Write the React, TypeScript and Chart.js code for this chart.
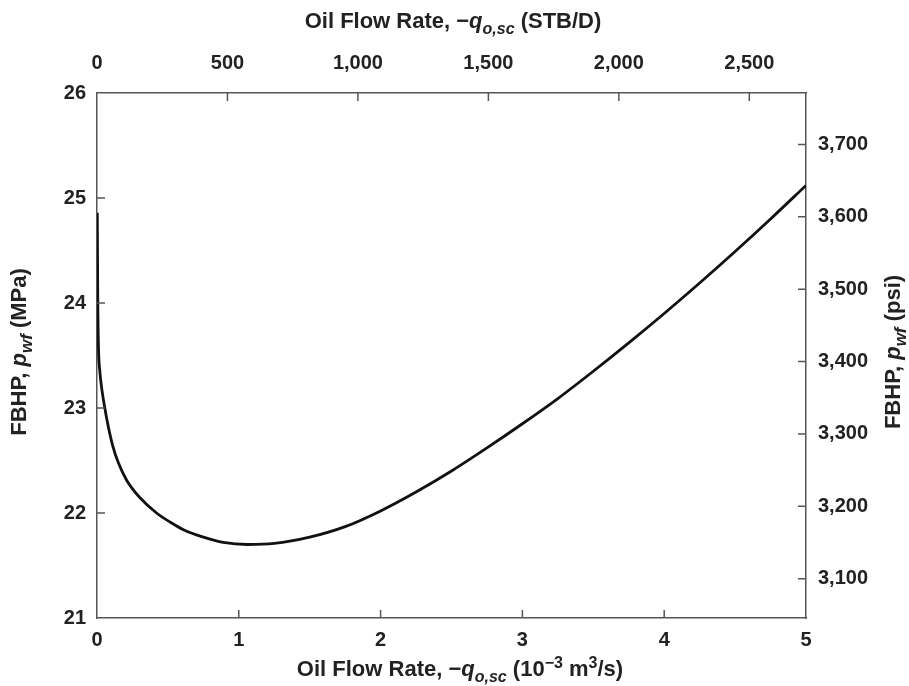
import React, { useEffect, useRef } from "react";
import { Chart, registerables } from "chart.js";

Chart.register(...registerables);

// Oil flow rate, 10^-3 m3/s
const flowRate = [
  0.002, 0.005, 0.01, 0.02, 0.035, 0.055, 0.08, 0.11, 0.15, 0.21, 0.3, 0.42,
  0.52, 0.61, 0.75, 0.89, 1.06, 1.25, 1.5, 1.75, 2.0, 2.25, 2.5, 2.75, 3.0,
  3.25, 3.5, 3.75, 4.0, 4.25, 4.5, 4.75, 5.0,
];
// FBHP, MPa
const fbhp = [
  24.86, 24.1, 23.6, 23.35, 23.17, 23.0, 22.82, 22.645, 22.48, 22.31, 22.15,
  22.0, 21.91, 21.84, 21.77, 21.72, 21.7, 21.71, 21.77, 21.87, 22.02, 22.2,
  22.4, 22.62, 22.85, 23.09, 23.35, 23.62, 23.9, 24.19, 24.49, 24.8, 25.12,
];

const bottomTicks = [0, 1, 2, 3, 4, 5];
const leftTicks = [21, 22, 23, 24, 25, 26];
const topTicks = [0, 500, 1000, 1500, 2000, 2500];
const rightTicks = [3100, 3200, 3300, 3400, 3500, 3600, 3700];

const X_MIN = 0;
const X_MAX = 5;
const Y_MIN = 21;
const Y_MAX = 26;
const STB_MAX = 2717.3; // 5e-3 m3/s in STB/D
const PSI_MIN = 3045.8; // 21 MPa in psi
const PSI_MAX = 3771.0; // 26 MPa in psi

const TEXT = "#222";
const AXIS = "#555";
const FAMILY = '"Liberation Sans", Arial, Helvetica, sans-serif';

type Seg = { t: string; it?: boolean; sub?: boolean; sup?: boolean };

const bottomTitle: Seg[] = [
  { t: "Oil Flow Rate, \u2212" },
  { t: "q", it: true },
  { t: "o,sc", it: true, sub: true },
  { t: " (10" },
  { t: "\u22123", sup: true },
  { t: " m" },
  { t: "3", sup: true },
  { t: "/s)" },
];
const topTitle: Seg[] = [
  { t: "Oil Flow Rate, \u2212" },
  { t: "q", it: true },
  { t: "o,sc", it: true, sub: true },
  { t: " (STB/D)" },
];
const leftTitle: Seg[] = [
  { t: "FBHP, " },
  { t: "p", it: true },
  { t: "wf", it: true, sub: true },
  { t: " (MPa)" },
];
const rightTitle: Seg[] = [
  { t: "FBHP, " },
  { t: "p", it: true },
  { t: "wf", it: true, sub: true },
  { t: " (psi)" },
];

function segFont(s: Seg, size: number, subScale: number) {
  const sz = s.sub || s.sup ? Math.round(size * subScale) : size;
  return `${s.it ? "italic " : ""}bold ${sz}px ${FAMILY}`;
}

function drawRich(
  ctx: CanvasRenderingContext2D,
  segs: Seg[],
  cx: number,
  cy: number,
  rot: number,
  size: number,
  subScale: number
) {
  ctx.save();
  ctx.translate(cx, cy);
  ctx.rotate(rot);
  ctx.fillStyle = TEXT;
  ctx.textBaseline = "alphabetic";
  ctx.textAlign = "left";
  let total = 0;
  const widths = segs.map((s) => {
    ctx.font = segFont(s, size, subScale);
    const w = ctx.measureText(s.t).width;
    total += w;
    return w;
  });
  let x = -total / 2;
  const base = size * 0.36;
  segs.forEach((s, i) => {
    ctx.font = segFont(s, size, subScale);
    let dy = 0;
    if (s.sub) dy = size * 0.28;
    if (s.sup) dy = -size * 0.38;
    ctx.fillText(s.t, x, base + dy);
    x += widths[i];
  });
  ctx.restore();
}

const decorPlugin = {
  id: "decor",
  afterDraw(chart: any) {
    const ctx = chart.ctx as CanvasRenderingContext2D;
    const a = chart.chartArea;
    const len = 8;
    ctx.save();
    ctx.strokeStyle = AXIS;
    ctx.lineWidth = 1.5;
    ctx.beginPath();
    const sx = chart.scales.x;
    bottomTicks.forEach((v) => {
      const p = sx.getPixelForValue(v);
      if (v === X_MIN || v === X_MAX) return;
      ctx.moveTo(p, a.bottom);
      ctx.lineTo(p, a.bottom - len);
    });
    const sx2 = chart.scales.x2;
    topTicks.forEach((v) => {
      if (v === 0) return;
      const p = sx2.getPixelForValue(v);
      ctx.moveTo(p, a.top);
      ctx.lineTo(p, a.top + len);
    });
    const sy = chart.scales.y;
    leftTicks.forEach((v) => {
      if (v === Y_MIN || v === Y_MAX) return;
      const p = sy.getPixelForValue(v);
      ctx.moveTo(a.left, p);
      ctx.lineTo(a.left + len, p);
    });
    const sy2 = chart.scales.y2;
    rightTicks.forEach((v) => {
      const p = sy2.getPixelForValue(v);
      ctx.moveTo(a.right, p);
      ctx.lineTo(a.right - len, p);
    });
    ctx.stroke();
    ctx.restore();

    drawRich(ctx, bottomTitle, 460, 668, 0, 22, 0.72);
    drawRich(ctx, topTitle, 453, 20, 0, 22, 0.72);
    drawRich(ctx, leftTitle, 18, 352, -Math.PI / 2, 22, 0.78);
    drawRich(ctx, rightTitle, 892, 352, -Math.PI / 2, 22, 0.78);
  },
};

const fmt = (v: number) => Number(v).toLocaleString("en-US");

export default function App() {
  const ref = useRef<HTMLCanvasElement | null>(null);
  useEffect(() => {
    if (!ref.current) return;
    const tickFont = { family: FAMILY, size: 20, weight: "bold" as const };
    const border = { display: true, color: AXIS, width: 1.5 };
    const chart = new Chart(ref.current, {
      type: "line",
      data: {
        datasets: [
          {
            data: flowRate.map((x, i) => ({ x, y: fbhp[i] })),
            borderColor: "#111",
            borderWidth: 2.8,
            pointRadius: 0,
            fill: false,
            cubicInterpolationMode: "monotone",
            xAxisID: "x",
            yAxisID: "y",
          },
        ],
      },
      options: {
        responsive: false,
        animation: false,
        layout: { padding: 0 },
        plugins: {
          legend: { display: false },
          tooltip: { enabled: false },
          title: { display: false },
        },
        scales: {
          x: {
            type: "linear",
            position: "bottom",
            min: X_MIN,
            max: X_MAX,
            afterBuildTicks: (s: any) => {
              s.ticks = bottomTicks.map((value) => ({ value }));
            },
            afterFit: (s: any) => {
              s.height = 68;
            },
            grid: { display: false, drawTicks: false },
            border,
            ticks: { font: tickFont, color: TEXT, padding: 10, maxRotation: 0 },
          },
          x2: {
            type: "linear",
            position: "top",
            min: 0,
            max: STB_MAX,
            afterBuildTicks: (s: any) => {
              s.ticks = topTicks.map((value) => ({ value }));
            },
            afterFit: (s: any) => {
              s.height = 93;
            },
            grid: { display: false, drawTicks: false },
            border,
            ticks: {
              font: tickFont,
              color: TEXT,
              padding: 18,
              maxRotation: 0,
              autoSkip: false,
              callback: (v: any) => fmt(v),
            },
          },
          y: {
            type: "linear",
            position: "left",
            min: Y_MIN,
            max: Y_MAX,
            afterBuildTicks: (s: any) => {
              s.ticks = leftTicks.map((value) => ({ value }));
            },
            afterFit: (s: any) => {
              s.width = 97;
            },
            grid: { display: false, drawTicks: false },
            border,
            ticks: { font: tickFont, color: TEXT, padding: 11 },
          },
          y2: {
            type: "linear",
            position: "right",
            min: PSI_MIN,
            max: PSI_MAX,
            afterBuildTicks: (s: any) => {
              s.ticks = rightTicks.map((value) => ({ value }));
            },
            afterFit: (s: any) => {
              s.width = 103;
            },
            grid: { display: false, drawTicks: false },
            border,
            ticks: {
              font: tickFont,
              color: TEXT,
              padding: 12,
              autoSkip: false,
              callback: (v: any) => fmt(v),
            },
          },
        },
      },
      plugins: [decorPlugin],
    });
    return () => chart.destroy();
  }, []);
  return (
    <div style={{ position: "absolute", left: 0, top: 0, width: 909, height: 686, background: "#fff" }}>
      <canvas ref={ref} width={909} height={686} style={{ display: "block" }} />
    </div>
  );
}
